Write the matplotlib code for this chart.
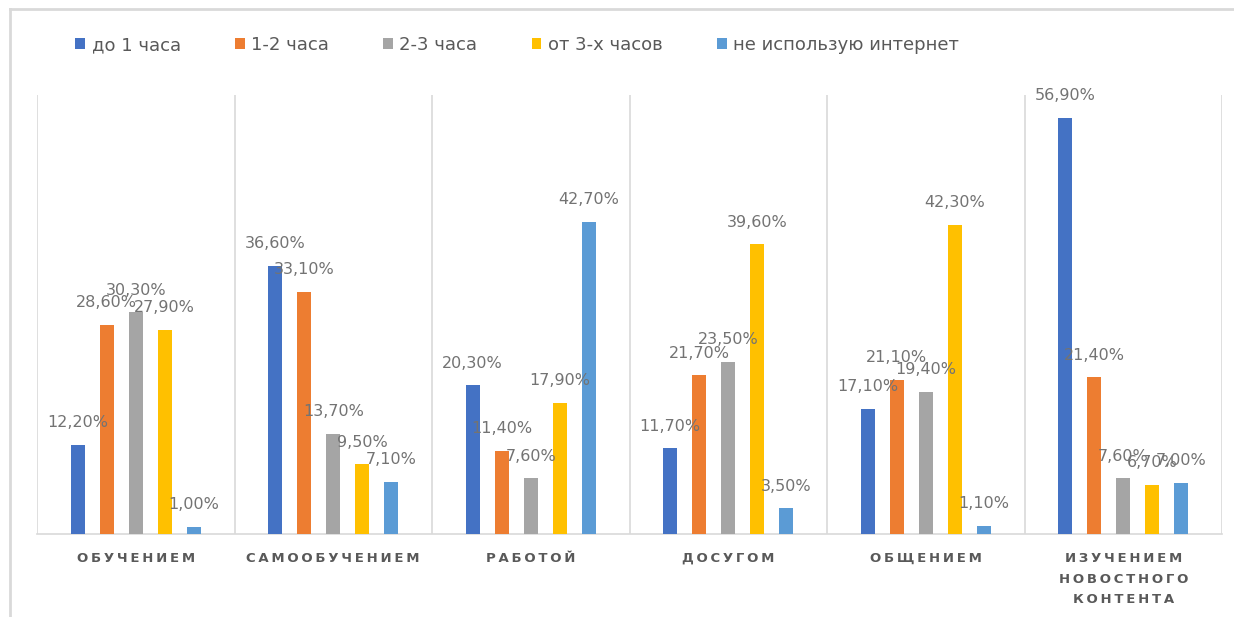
import matplotlib
matplotlib.use("Agg")
import matplotlib.pyplot as plt
import numpy as np
from matplotlib.lines import Line2D
from matplotlib.patches import Patch

categories = ["ОБУЧЕНИЕМ", "САМООБУЧЕНИЕМ", "РАБОТОЙ", "ДОСУГОМ", "ОБЩЕНИЕМ",
              "ИЗУЧЕНИЕМ\nНОВОСТНОГО\nКОНТЕНТА"]
series_names = ["до 1 часа", "1-2 часа", "2-3 часа", "от 3-х часов", "не использую интернет"]
up_to_1h = [12.2, 36.6, 20.3, 11.7, 17.1, 56.9]
h1_2 = [28.6, 33.1, 11.4, 21.7, 21.1, 21.4]
h2_3 = [30.3, 13.7, 7.6, 23.5, 19.4, 7.6]
over_3h = [27.9, 9.5, 17.9, 39.6, 42.3, 6.7]
no_internet = [1.0, 7.1, 42.7, 3.5, 1.1, 7.0]
series = [up_to_1h, h1_2, h2_3, over_3h, no_internet]
colors = ["#4472C4", "#ED7D31", "#A5A5A5", "#FFC000", "#5B9BD5"]

W, H = 1234, 617
fig = plt.figure(figsize=(W / 100, H / 100), dpi=100)
ax = fig.add_axes([37 / W, 1 - 534 / H, (1222 - 37) / W, (534 - 95) / H])

x = np.arange(len(categories))
step = 0.147
bw = 0.071
for i, (vals, c) in enumerate(zip(series, colors)):
    pos = x + (i - 2) * step
    ax.bar(pos, vals, width=bw, color=c, zorder=3)
    for px, v in zip(pos, vals):
        ax.annotate(f"{v:.2f}%".replace(".", ","), (px, v), xytext=(0, 16),
                    textcoords="offset points", ha="center", va="center",
                    fontsize=11.5, color="#737373", zorder=4)

ax.set_xlim(-0.5, len(categories) - 0.5)
ax.set_ylim(0, 60)
for s in ["top", "left", "right"]:
    ax.spines[s].set_visible(False)
ax.spines["bottom"].set_color("#d9d9d9")
ax.spines["bottom"].set_linewidth(1.2)
for b in np.arange(-0.5, len(categories), 1.0):
    ax.axvline(b, color="#d9d9d9", lw=1.2, zorder=1)
ax.set_yticks([])
ax.set_xticks(x)
spaced = ["\n".join("\u200a\u200a".join(line) for line in c.split("\n")) for c in categories]
ax.set_xticklabels(spaced, fontsize=9.5, fontweight="bold", color="#595959",
                   linespacing=1.75)
ax.tick_params(axis="x", length=0, pad=13)

handles = [Patch(facecolor=c, edgecolor="none") for c in colors]
fig.legend(handles, series_names, loc="center left", bbox_to_anchor=(59 / W, 1 - 45 / H),
           ncol=5, frameon=False, fontsize=13, handlelength=0.55, handleheight=0.55,
           handletextpad=0.35, columnspacing=3.0, labelcolor="#595959")

# outer chart border (left and top)
fig.add_artist(Line2D([10 / W, 10 / W], [0, 1 - 9 / H], transform=fig.transFigure,
                      color="#d9d9d9", lw=2))
fig.add_artist(Line2D([10 / W, 1], [1 - 9 / H, 1 - 9 / H], transform=fig.transFigure,
                      color="#d9d9d9", lw=2))

fig.savefig("out.png", dpi=100)
